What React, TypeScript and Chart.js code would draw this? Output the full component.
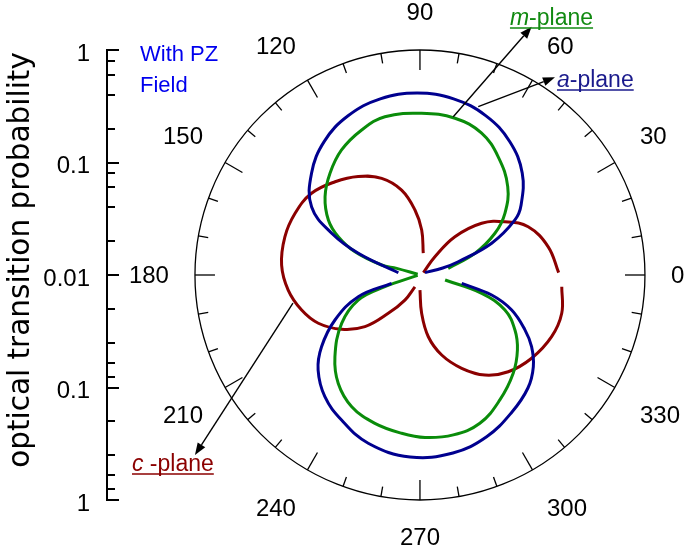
import React, { useEffect, useRef } from 'react';
import { Chart, registerables } from 'chart.js';

Chart.register(...registerables);

// ---- data (angle in degrees, optical transition probability) ----
const aUpperAngles = [174, 160.6, 154.7, 147.9, 136.8, 125.6, 114.3, 102.7, 90.9, 79.2, 67.6, 56.1, 44.9, 34.7, 30.1, 23.9, 19.1, 17, 25];
const aUpperValues = [0.0156, 0.0381, 0.0738, 0.137, 0.210, 0.289, 0.357, 0.403, 0.415, 0.393, 0.341, 0.269, 0.192, 0.124, 0.0946, 0.0498, 0.0229, 0.0163, 0.0112];

const aLowerAngles = [196.3, 199.4, 207.9, 216.1, 223.0, 232.0, 241.6, 252.9, 266.9, 280.5, 292.4, 303.9, 313.7, 321.0, 327.3, 332.4, 339.1, 344.4, 348.7];
const aLowerValues = [0.0183, 0.0381, 0.0716, 0.121, 0.173, 0.236, 0.292, 0.367, 0.417, 0.406, 0.359, 0.293, 0.245, 0.198, 0.151, 0.113, 0.0746, 0.0459, 0.0239];

const mUpperAngles = [163, 164, 165.4, 160.3, 154.9, 149.0, 140.5, 131.5, 122.1, 111.9, 102.5, 89.4, 77.4, 66.5, 56.5, 45.2, 36.0, 29.1, 21.5, 13.3];
const mUpperValues = [0.0105, 0.0164, 0.0225, 0.0411, 0.0634, 0.0891, 0.124, 0.161, 0.205, 0.245, 0.276, 0.274, 0.268, 0.237, 0.182, 0.128, 0.0858, 0.0579, 0.0335, 0.0181];

const mLowerAngles = [190, 198.5, 202.1, 211.7, 223.9, 233.0, 242.6, 253.1, 263.4, 271.8, 281.8, 292.0, 302.6, 313.5, 322.4, 329.9, 337.6, 343.5, 348.7];
const mLowerValues = [0.0105, 0.0213, 0.0391, 0.0658, 0.112, 0.161, 0.208, 0.239, 0.261, 0.279, 0.283, 0.264, 0.208, 0.160, 0.124, 0.0946, 0.0656, 0.0374, 0.0169];

const cLeftAngles = [81.4, 87.8, 94.4, 102.2, 111.6, 122.1, 132.3, 143.0, 153.7, 164.2, 175.9, 186.5, 196.5, 205.4, 214.7, 223.2, 230.4, 239.0, 246.9];
const cLeftValues = [0.0157, 0.0251, 0.0380, 0.0592, 0.0840, 0.108, 0.132, 0.161, 0.173, 0.177, 0.171, 0.151, 0.125, 0.100, 0.0703, 0.0469, 0.0277, 0.0182, 0.0130];

const cRightUpperAngles = [35, 50.7, 47.6, 40.0, 32.1, 24.0, 12.4, 1];
const cRightUpperValues = [0.0109, 0.0162, 0.0289, 0.0520, 0.0779, 0.113, 0.147, 0.171];

const cRightLowerAngles = [355.3, 344.9, 334.9, 323.3, 312.4, 303.0, 294.1, 285.2, 277.7, 272.5, 270];
const cRightLowerValues = [0.184, 0.202, 0.196, 0.173, 0.146, 0.115, 0.0810, 0.0546, 0.0358, 0.0219, 0.0136];

// axis / label text
const yTickValues = [2, 1, 0, -1, -2];
const yTickLabels = ['1', '0.1', '0.01', '0.1', '1'];
const angleTicks = [0, 30, 60, 90, 120, 150, 180, 210, 240, 270, 300, 330];
const yTitle = 'optical transition probability';
const noteLines = ['With PZ', 'Field'];

// ---- styles ----
const BLUE = '#00008f';
const GREEN = '#0a8c0a';
const RED = '#8b0000';
const NUM_FONT = '"Liberation Sans", Arial, sans-serif';
const RMAX = 2; // decades from 0.01 to 1

const toPoints = (angles: number[], values: number[]) =>
  angles.map((deg, i) => {
    const r = Math.max(0, Math.log10(values[i]) + 2);
    const t = (deg * Math.PI) / 180;
    return { x: r * Math.cos(t), y: r * Math.sin(t) };
  });

const seg = (angles: number[], values: number[], color: string) => ({
  data: toPoints(angles, values),
  showLine: true,
  borderColor: color,
  backgroundColor: color,
  borderWidth: 3,
  pointRadius: 0,
  tension: 0.4,
  fill: false,
  clip: false as any,
});

function arrow(ctx: CanvasRenderingContext2D, x1: number, y1: number, x2: number, y2: number) {
  const ang = Math.atan2(y2 - y1, x2 - x1);
  const hl = 12, hw = 4.5;
  const bx = x2 - hl * Math.cos(ang), by = y2 - hl * Math.sin(ang);
  ctx.beginPath();
  ctx.moveTo(x1, y1);
  ctx.lineTo(bx, by);
  ctx.stroke();
  ctx.beginPath();
  ctx.moveTo(x2, y2);
  ctx.lineTo(bx + hw * Math.sin(ang), by - hw * Math.cos(ang));
  ctx.lineTo(bx - hw * Math.sin(ang), by + hw * Math.cos(ang));
  ctx.closePath();
  ctx.fill();
}

function planeLabel(ctx: CanvasRenderingContext2D, x: number, y: number, italic: string, rest: string, color: string) {
  ctx.fillStyle = color;
  ctx.strokeStyle = color;
  ctx.textAlign = 'left';
  ctx.textBaseline = 'alphabetic';
  ctx.font = `italic 23px ${NUM_FONT}`;
  ctx.fillText(italic, x, y);
  const w1 = ctx.measureText(italic).width;
  ctx.font = `23px ${NUM_FONT}`;
  ctx.fillText(rest, x + w1, y);
  const w2 = ctx.measureText(rest).width;
  ctx.lineWidth = 1.5;
  ctx.beginPath();
  ctx.moveTo(x, y + 3);
  ctx.lineTo(x + w1 + w2, y + 3);
  ctx.stroke();
}

const sgn = (v: number) => (Math.abs(v) < 1e-6 ? 0 : Math.sign(v));

const decorPlugin = {
  id: 'polarDecor',
  beforeDatasetsDraw(chart: any) {
    const { ctx, scales } = chart;
    const xs = scales.x, ys = scales.y;
    const cx = xs.getPixelForValue(0), cy = ys.getPixelForValue(0);
    const R = cy - ys.getPixelForValue(RMAX);
    ctx.save();
    ctx.strokeStyle = '#000';
    ctx.lineWidth = 1.3;
    ctx.beginPath();
    ctx.arc(cx, cy, R, 0, Math.PI * 2);
    ctx.stroke();
    for (let a = 0; a < 360; a += 10) {
      const len = a % 30 === 0 ? 20 : 10;
      const t = (a * Math.PI) / 180;
      ctx.beginPath();
      ctx.moveTo(cx + R * Math.cos(t), cy - R * Math.sin(t));
      ctx.lineTo(cx + (R - len) * Math.cos(t), cy - (R - len) * Math.sin(t));
      ctx.stroke();
    }
    ctx.fillStyle = '#000';
    ctx.font = `24px ${NUM_FONT}`;
    ctx.textAlign = 'center';
    ctx.textBaseline = 'middle';
    angleTicks.forEach((a) => {
      const t = (a * Math.PI) / 180;
      const txt = String(a);
      const w = ctx.measureText(txt).width;
      const h = 17;
      const c = Math.cos(t), s = Math.sin(t);
      const onAxis = sgn(s) === 0 || sgn(c) === 0;
      const Ra = sgn(s) === 0 ? R + 26 : R + 29;
      let x = cx + Ra * c + sgn(c) * w / 2;
      let y = cy - Ra * s - sgn(s) * h / 2;
      if (!onAxis) {
        if (c < 0) x += 3;
        if (s < 0) y += 5;
        else if (Math.abs(c) > 0.7) y -= 3;
      }
      ctx.fillText(txt, x, y + 1);
    });
    ctx.restore();
  },
  afterDraw(chart: any) {
    const { ctx, scales } = chart;
    const xs = scales.x, ys = scales.y;
    const px = (u: number) => xs.getPixelForValue(u);
    const py = (v: number) => ys.getPixelForValue(v);
    ctx.save();
    // y axis ticks (pointing right)
    ctx.strokeStyle = '#000';
    ctx.lineWidth = 2;
    const ax = ys.right;
    yTickValues.forEach((v) => {
      const y = Math.round(py(v));
      ctx.beginPath();
      ctx.moveTo(ax, y);
      ctx.lineTo(ax + 12, y);
      ctx.stroke();
    });
    [0, 1].forEach((k) => {
      [2, 4, 6, 8].forEach((m) => {
        const v = k + Math.log10(m);
        [v, -v].forEach((vv) => {
          const y = Math.round(py(vv));
          ctx.beginPath();
          ctx.moveTo(ax, y);
          ctx.lineTo(ax + 8, y);
          ctx.stroke();
        });
      });
    });
    // y title
    ctx.save();
    ctx.translate(21, 260);
    ctx.rotate(-Math.PI / 2);
    ctx.fillStyle = '#000';
    ctx.font = '29.5px "DejaVu Sans", sans-serif';
    ctx.textAlign = 'center';
    ctx.textBaseline = 'middle';
    ctx.fillText(yTitle, 0, 0);
    ctx.restore();
    // note
    ctx.fillStyle = '#0000ee';
    ctx.font = `22px ${NUM_FONT}`;
    ctx.textAlign = 'left';
    ctx.textBaseline = 'alphabetic';
    ctx.fillText(noteLines[0], 140, 61);
    ctx.fillText(noteLines[1], 140, 92);
    // arrows (positions in data units)
    ctx.strokeStyle = '#000';
    ctx.fillStyle = '#000';
    ctx.lineWidth = 1.4;
    arrow(ctx, px(0.296), py(1.407), px(0.993), py(2.207));
    arrow(ctx, px(0.518), py(1.496), px(1.2), py(1.757));
    arrow(ctx, px(-1.129), py(-0.249), px(-2.0), py(-1.6));
    // plane labels
    planeLabel(ctx, px(0.8), py(2.222), 'm', '-plane', '#118a11');
    planeLabel(ctx, px(1.218), py(1.671), 'a', '-plane', '#1a1a8c');
    planeLabel(ctx, px(-2.56), py(-1.742), 'c', ' -plane', RED);
    ctx.restore();
  },
};

export default function App() {
  const ref = useRef<HTMLCanvasElement>(null);
  useEffect(() => {
    if (!ref.current) return;
    const chart = new Chart(ref.current, {
      type: 'scatter',
      data: {
        datasets: [
          seg(aUpperAngles, aUpperValues, BLUE),
          seg(aLowerAngles, aLowerValues, BLUE),
          seg(mUpperAngles, mUpperValues, GREEN),
          seg(mLowerAngles, mLowerValues, GREEN),
          seg(cLeftAngles, cLeftValues, RED),
          seg(cRightUpperAngles, cRightUpperValues, RED),
          seg(cRightLowerAngles, cRightLowerValues, RED),
        ] as any,
      },
      options: {
        responsive: false,
        animation: false,
        events: [],
        layout: { padding: { top: 50, bottom: 51, left: 0, right: 0 } },
        plugins: { legend: { display: false }, tooltip: { enabled: false } },
        scales: {
          x: { type: 'linear', display: false, min: -2.782, max: 2.356 },
          y: {
            type: 'linear',
            position: 'left',
            min: -RMAX,
            max: RMAX,
            afterBuildTicks: (s: any) => {
              s.ticks = yTickValues.map((v) => ({ value: v }));
            },
            afterFit: (s: any) => {
              s.width = 107;
            },
            ticks: {
              callback: (v: any) => yTickLabels[yTickValues.indexOf(Number(v))] ?? '',
              color: '#000',
              font: { family: NUM_FONT, size: 24 },
              padding: 17,
              labelOffset: 4,
            },
            grid: { display: false, drawTicks: false },
            border: { display: true, color: '#000', width: 2 },
          },
        },
      } as any,
      plugins: [decorPlugin],
    });
    return () => chart.destroy();
  }, []);
  return (
    <div style={{ position: 'fixed', left: 0, top: 0, width: 685, height: 551, background: '#fff' }}>
      <canvas ref={ref} width={685} height={551} style={{ display: 'block' }} />
    </div>
  );
}
